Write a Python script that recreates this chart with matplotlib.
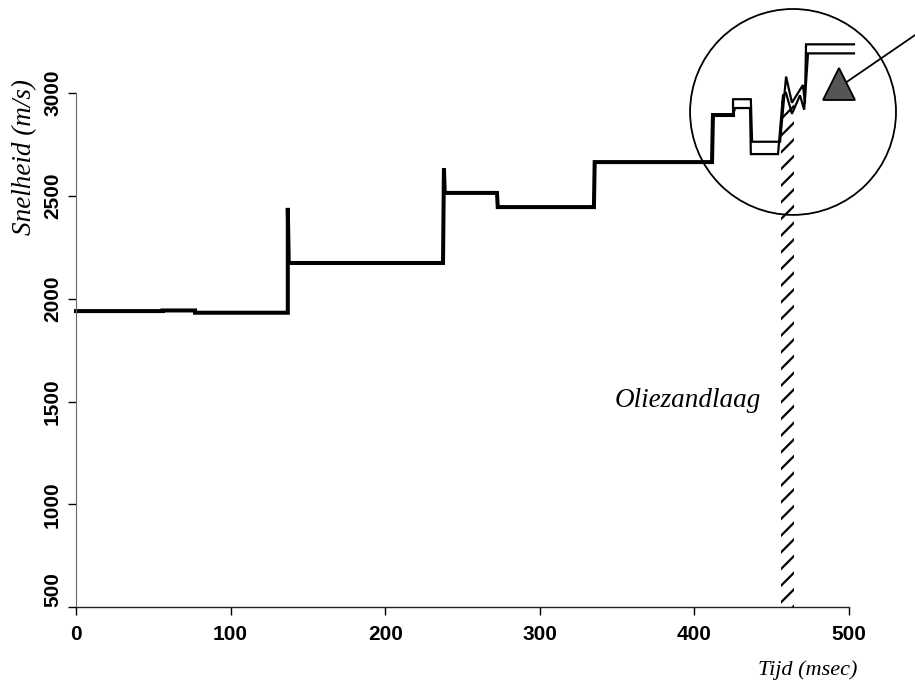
import numpy as np
import matplotlib.pyplot as plt
from matplotlib.patches import Ellipse

# === Dados
# trecho comum das duas curvas (tempo em msec, velocidade em m/s)
t_common = [0, 56, 56, 77, 77, 137, 137, 137.6, 237.4, 238, 238.5, 272.3, 272.8,
            335, 335.5, 411.4, 412, 425]
v_common = [1940, 1940, 1943, 1943, 1932, 1932, 2442, 2174, 2174, 2636, 2515, 2515, 2446,
            2446, 2665, 2665, 2894, 2894]

# as duas curvas se separam na zona do circulo
t_upper = [425, 425, 436.5, 437.3, 455.4, 459.3, 463.1, 470.2, 471.5, 472.2, 503.2]
v_upper = [2894, 2971, 2971, 2764, 2764, 3081, 2954, 3040, 2950, 3238, 3238]
t_lower = [425, 426.3, 436, 436.5, 454.1, 457.3, 459.3, 463.1, 468.3, 471, 473.5, 503.2]
v_lower = [2894, 2928, 2928, 2704, 2704, 2990, 3000, 2900, 2990, 2920, 3194, 3194]

# camada de areia betuminosa (faixa hachurada)
layer_t = [456.3, 464.7]
layer_v = [500, 2960]
layer_label = 'Oliezandlaag'

# circulo de destaque, triangulo e linha indicadora
circle_center = (463.8, 2909)
circle_size = (133.2, 1002)
triangle_pos = (493.8, 3047)
pointer_t = [498.7, 542.7]
pointer_v = [3056, 3283]

xticks = [0, 100, 200, 300, 400, 500]
yticks = [500, 1000, 1500, 2000, 2500, 3000]

# === Grafico
plt.rcParams['font.family'] = 'Liberation Sans'
plt.rcParams['hatch.linewidth'] = 1.6

fig = plt.figure(figsize=(9.15, 6.89), dpi=100)
ax = fig.add_axes([76 / 915, 82 / 689, 839 / 915, 607 / 689])
ax.set_xlim(0, 839 / 1.546)
ax.set_ylim(500, 500 + 607 / 0.2055)

ax.plot(t_common, v_common, color='black', lw=2.9, solid_joinstyle='miter', clip_on=False)
ax.plot(t_upper, v_upper, color='black', lw=1.6, solid_joinstyle='miter', clip_on=False)
ax.plot(t_lower, v_lower, color='black', lw=1.6, solid_joinstyle='miter', clip_on=False)

ax.fill_betweenx(layer_v, layer_t[0], layer_t[1], facecolor='none', edgecolor='black',
                 hatch='//', linewidth=0)
ax.text(396, 1507, layer_label, ha='center', va='center', fontsize=19.5,
        family='Liberation Serif', style='italic')

ax.add_patch(Ellipse(circle_center, circle_size[0], circle_size[1], fill=False,
                     ec='black', lw=1.3, clip_on=False))
ax.plot(pointer_t, pointer_v, color='black', lw=1.3, clip_on=False)
ax.plot(*triangle_pos, marker='^', ms=23, mfc='#555555', mec='black', mew=1.3,
        clip_on=False)

for side in ['top', 'right']:
    ax.spines[side].set_visible(False)
ax.spines['bottom'].set_bounds(0, 500)
ax.spines['left'].set_bounds(500, 3000)
ax.spines['bottom'].set_color('#222222')
ax.spines['left'].set_color('#666666')
ax.spines['bottom'].set_linewidth(1.0)
ax.spines['left'].set_linewidth(0.8)

ax.set_xticks(xticks)
ax.set_yticks(yticks)
ax.tick_params(axis='x', direction='out', length=6, width=1, pad=7, labelsize=15)
ax.tick_params(axis='y', direction='out', length=6, width=1, pad=4, labelsize=15,
               labelrotation=90)
for lab in ax.get_xticklabels() + ax.get_yticklabels():
    lab.set_fontweight('bold')
for lab in ax.get_yticklabels():
    lab.set_va('center')
ax.get_yticklabels()[0].set_va('bottom')

fig.text(25 / 915, 1 - 157 / 689, 'Snelheid (m/s)', rotation=90, ha='center', va='center',
         fontsize=19.5, family='Liberation Serif', style='italic')
fig.text(808 / 915, 1 - 670 / 689, 'Tijd (msec)', ha='center', va='center',
         fontsize=16, family='Liberation Serif', style='italic')

fig.savefig('out.png', dpi=100)
